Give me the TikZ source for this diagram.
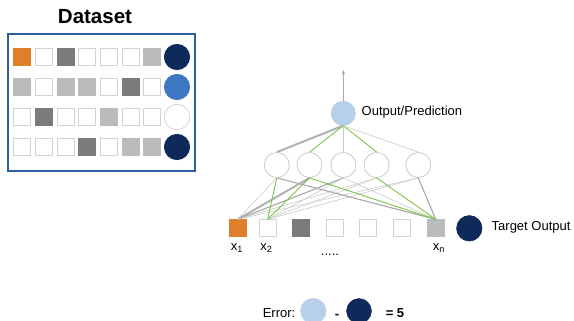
\documentclass[tikz,border=0pt]{standalone}
\usepackage{fontspec}
\setmainfont{Liberation Sans}
\usetikzlibrary{arrows.meta}

\definecolor{orng}{HTML}{E07F2A}
\definecolor{dgray}{HTML}{7B7B7B}
\definecolor{lgray}{HTML}{BBBBBB}
\definecolor{edge}{HTML}{D3D3D3}
\definecolor{navy}{HTML}{0E2A5A}
\definecolor{midblue}{HTML}{3E78C2}
\definecolor{paleblue}{HTML}{B9D0EA}
\definecolor{lgreen}{HTML}{82C247}
\definecolor{frame}{HTML}{2D5E9E}
\definecolor{wire}{HTML}{CBCBCB}
\definecolor{wiremid}{HTML}{A9A9A9}
\definecolor{wirethick}{HTML}{B2B2B2}

\tikzset{
  dcell/.style={rectangle, minimum size=17pt, inner sep=0pt, line width=0.8pt},
  dlabel/.style={circle, minimum size=25.4pt, inner sep=0pt, line width=0.7pt},
  incell/.style={rectangle, minimum size=16.5pt, inner sep=0pt, line width=0.8pt},
  hidden/.style={circle, minimum size=25pt, inner sep=0pt, draw=wire, fill=white, line width=0.8pt},
  txt/.style={inner sep=0pt, font=\fontsize{13}{15}\selectfont},
  boldtxt/.style={inner sep=0pt, font=\bfseries\fontsize{13}{15}\selectfont},
  thin/.style={draw=wire, line width=0.6pt},
  medw/.style={draw=wiremid, line width=1.1pt},
  thickw/.style={draw=wirethick, line width=2pt},
  grn/.style={draw=lgreen, line width=0.9pt},
}

\begin{document}
\begin{tikzpicture}[x=1pt, y=-1pt]
\useasboundingbox (0,0) rectangle (574,321);
\fill[white] (0,0) rectangle (574,321);

% ---- Dataset table ----
\node[inner sep=0pt, font=\bfseries\fontsize{20.5}{24}\selectfont] (title) at (95,16.5) {Dataset};
\node[draw=frame, line width=1.2pt, minimum width=187pt, minimum height=137pt, inner sep=0pt] (dbox) at (101.5,102.5) {};

\foreach \row [count=\r] in {
  {orng/orng,white/edge,dgray/dgray,white/edge,white/edge,white/edge,lgray/lgray},
  {lgray/lgray,white/edge,lgray/lgray,lgray/lgray,white/edge,dgray/dgray,white/edge},
  {white/edge,dgray/dgray,white/edge,white/edge,lgray/lgray,white/edge,white/edge},
  {white/edge,white/edge,white/edge,dgray/dgray,white/edge,lgray/lgray,lgray/lgray}}
{
  \foreach \f/\e [count=\c] in \row {
    \node[dcell, fill=\f, draw=\e] (d\r-\c) at ({22+21.7*(\c-1)},{57+30*(\r-1)}) {};
  }
}
\node[dlabel, fill=navy, draw=navy] (t1) at (177,57) {};
\node[dlabel, fill=midblue, draw=midblue] (t2) at (177,87) {};
\node[dlabel, fill=white, draw=edge] (t3) at (177,117) {};
\node[dlabel, fill=navy, draw=navy] (t4) at (177,147) {};

% ---- Network ----
\node[circle, minimum size=24pt, inner sep=0pt, fill=paleblue, draw=paleblue!85!gray, line width=0.6pt] (out) at (343.3,113.3) {};
\node[txt, anchor=west] (outlbl) at (361.5,112.5) {Output/Prediction};
\coordinate (up) at (343.3,70);
\draw[draw=wiremid, line width=0.6pt, -{Stealth[length=4.5pt,width=3.5pt]}] (out.north) -- (up);

\foreach \x [count=\i] in {276.8,309.5,343.3,376.7,418.3}
  \node[hidden] (h\i) at (\x,165) {};

\node[incell, fill=orng, draw=orng] (i1) at (237.7,228) {};
\node[incell, fill=white, draw=edge] (i2) at (267.7,228) {};
\node[incell, fill=dgray, draw=dgray] (i3) at (301,228) {};
\node[incell, fill=white, draw=edge] (i4) at (335,228) {};
\node[incell, fill=white, draw=edge] (i5) at (367.7,228) {};
\node[incell, fill=white, draw=edge] (i6) at (401.7,228) {};
\node[incell, fill=lgray, draw=lgray] (i7) at (435.7,228) {};
\node[dlabel, fill=navy, draw=navy] (tgt) at (469.3,228.3) {};
\node[txt, anchor=west] (tgtlbl) at (491.5,227.5) {Target Output};

\node[txt, anchor=base] (l1) at (237,250.7) {x\textsubscript{1}};
\node[txt, anchor=base] (l2) at (266.5,250.7) {x\textsubscript{2}};
\node[txt, anchor=base] (ldots) at (330,255.5) {.....};
\node[txt, anchor=base] (ln) at (439,250.7) {x\textsubscript{n}};

% output to hidden layer
\draw[thickw] (out.south) -- (h1.north);
\draw[grn]    (out.south) -- (h2.north);
\draw[thin]   (out.south) -- (h3.north);
\draw[grn]    (out.south) -- (h4.north);
\draw[thin]   (out.south) -- (h5.north);

% hidden layer to inputs
\draw[thin]   (h1.south) -- (i1.north);
\draw[thickw] (h2.south) -- (i1.north);
\draw[medw]   (h3.south) -- (i1.north);
\draw[thin]   (h4.south) -- (i1.north);
\draw[thin]   (h5.south) -- (i1.north);

\draw[thin]   (h3.south) -- (i2.north);
\draw[thin]   (h4.south) -- (i2.north);
\draw[thin]   (h5.south) -- (i2.north);
\draw[grn]    (h1.south) -- (i2.north);
\draw[grn]    (h2.south) -- (i2.north);

\draw[medw]   (h1.south) -- (i7.north);
\draw[thin]   (h3.south) -- (i7.north);
\draw[medw]   (h5.south) -- (i7.north);
\draw[grn]    (h2.south) -- (i7.north);
\draw[grn]    (h4.south) -- (i7.north);

% ---- Error line ----
\node[txt, anchor=base east] (err) at (295.5,317) {Error:};
\node[circle, minimum size=25.5pt, inner sep=0pt, fill=paleblue, draw=paleblue] (e1) at (313.3,311) {};
\node[boldtxt, anchor=base] (minus) at (337,318.5) {-};
\node[circle, minimum size=25pt, inner sep=0pt, fill=navy, draw=navy] (e2) at (359,311) {};
\node[boldtxt, anchor=base] (res) at (395,317.5) {= 5};
\end{tikzpicture}
\end{document}
